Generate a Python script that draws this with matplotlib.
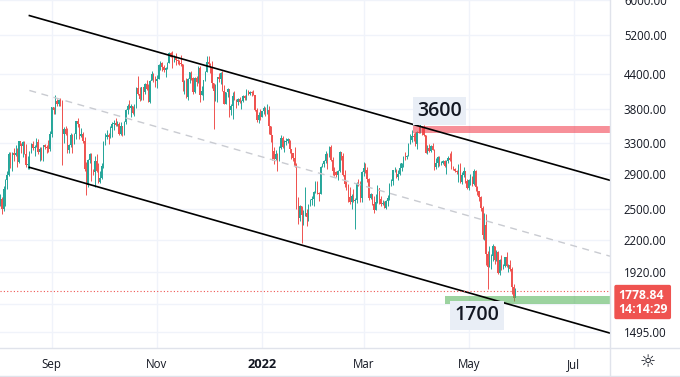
import matplotlib
matplotlib.use("Agg")
from matplotlib import pyplot as plt
import matplotlib.dates as mdates
from matplotlib.lines import Line2D
from matplotlib.patches import Rectangle
import numpy as np
import pandas as pd

plt.rcParams['font.family'] = ['Open Sans', 'DejaVu Sans']

# daily candles, first day 2021-08-02; open = previous close
first_day = '2021-08-02'
first_open = 2555
close = [
    # Aug
    2610, 2507, 2725, 2827, 2890, 3158, 3014, 3163, 3141, 3164, 3048, 3322, 3265, 3310, 3156,
    3014, 3020, 3183, 3286, 3226, 3242, 3320, 3172, 3224, 3101, 3270, 3244, 3227, 3224, 3433,
    # Sep
    3834, 3791, 3940, 3887, 3952, 3928, 3426, 3497, 3427, 3211, 3270, 3410, 3285, 3429, 3615,
    3571, 3399, 3432, 3329, 2958, 2764, 3077, 3155, 2932, 2926, 3062, 2934, 2807, 2853, 3001,
    # Oct
    3307, 3391, 3418, 3380, 3518, 3576, 3587, 3563, 3575, 3426, 3545, 3492, 3606, 3786, 3862,
    3830, 3847, 3748, 3877, 4155, 4055, 3972, 4169, 4088, 4218, 4131, 3924, 4288, 4415, 4325, 4288,
    # Nov
    4324, 4584, 4607, 4537, 4476, 4519, 4620, 4812, 4735, 4637, 4730, 4667, 4648, 4625, 4589,
    4260, 4287, 3995, 4311, 4437, 4326, 4085, 4338, 4270, 4525, 4041, 4096, 4293, 4445, 4632,
    # Dec
    4587, 4519, 4240, 4101, 4198, 4346, 4308, 4435, 4111, 3894, 4085, 4134, 3784, 3862, 4018,
    3960, 3922, 3962, 3927, 3941, 4022, 3982, 4109, 4048, 4093, 4067, 4037, 3796, 3629, 3713, 3683,
    # Jan
    3769, 3829, 3762, 3795, 3538, 3414, 3196, 3091, 3158, 3084, 3239, 3372, 3249, 3309, 3330,
    3350, 3213, 3164, 3097, 3001, 2568, 2413, 2540, 2442, 2460, 2464, 2425, 2548, 2598, 2606, 2688,
    # Feb
    2792, 2681, 2665, 2990, 3021, 3057, 3147, 3122, 3242, 3078, 2933, 2917, 2881, 2931,
    3180, 3129, 2886, 2785, 2765, 2627, 2574, 2640, 2592, 2600, 2786, 2781, 2622, 2922,
    # Mar
    2975, 2951, 2835, 2626, 2666, 2556, 2496, 2576, 2728, 2608, 2559, 2571, 2518, 2592, 2618,
    2773, 2814, 2944, 2949, 2860, 2898, 2971, 3032, 3109, 3108, 3129, 3290, 3336, 3403, 3386, 3282,
    # Apr
    3457, 3445, 3522, 3521, 3411, 3170, 3234, 3191, 3262, 3211, 2981, 3030, 3117, 3019, 3041,
    3061, 2995, 3057, 3104, 3077, 2987, 2964, 2935, 2922, 3009, 2808, 2888, 2936, 2815, 2730,
    # May
    2827, 2857, 2782, 2940, 2749, 2694, 2636, 2518, 2245, 2343, 2072, 1961, 2014, 2057,
    2145, 2023, 2090, 1914, 2019, 1957, 1975, 2043, 1972, 1978, 1945, 1803, 1725, 1778.84,
]
high = [
    2665, 2630, 2760, 2840, 2940, 3175, 3185, 3180, 3230, 3275, 3230, 3330, 3300, 3330, 3335,
    3290, 3120, 3190, 3300, 3330, 3270, 3370, 3360, 3250, 3250, 3280, 3290, 3280, 3340, 3470,
    3840, 3840, 4030, 3970, 3970, 3980, 3950, 3530, 3550, 3510, 3290, 3440, 3430, 3440, 3620,
    3670, 3580, 3510, 3450, 3380, 3050, 3090, 3170, 3160, 2960, 3120, 3150, 3040, 2940, 3040,
    3330, 3440, 3480, 3440, 3540, 3610, 3640, 3670, 3620, 3610, 3600, 3550, 3620, 3810, 3880,
    3950, 3880, 3860, 3890, 4170, 4370, 4170, 4170, 4170, 4240, 4290, 4230, 4300, 4460, 4420, 4370,
    4380, 4600, 4660, 4640, 4570, 4540, 4630, 4830, 4840, 4850, 4780, 4810, 4700, 4670, 4770,
    4590, 4300, 4340, 4340, 4450, 4460, 4360, 4360, 4370, 4550, 4550, 4200, 4300, 4460, 4760,
    4760, 4610, 4650, 4240, 4230, 4360, 4420, 4440, 4460, 4210, 4090, 4150, 4130, 3890, 4090,
    4100, 3970, 3990, 4010, 3950, 4040, 4040, 4140, 4120, 4110, 4100, 4130, 4040, 3820, 3760, 3800,
    3780, 3850, 3840, 3880, 3850, 3540, 3420, 3240, 3200, 3160, 3260, 3410, 3400, 3340, 3370,
    3370, 3340, 3220, 3170, 3250, 3040, 2630, 2550, 2540, 2490, 2740, 2500, 2560, 2610, 2640, 2700,
    2820, 2810, 2690, 3000, 3040, 3070, 3190, 3160, 3260, 3280, 3110, 2980, 2940, 2950,
    3190, 3180, 3160, 2950, 2810, 2780, 2750, 2660, 2720, 2620, 2800, 2840, 2820, 2940,
    3050, 3030, 2980, 2850, 2680, 2670, 2640, 2660, 2770, 2730, 2640, 2600, 2590, 2600, 2650,
    2790, 2840, 2950, 2990, 2960, 2950, 3040, 3040, 3120, 3180, 3140, 3300, 3430, 3480, 3440, 3450,
    3470, 3550, 3570, 3540, 3560, 3410, 3270, 3290, 3270, 3300, 3220, 3100, 3130, 3130, 3060,
    3080, 3080, 3070, 3130, 3170, 3190, 3000, 2970, 2950, 3020, 3040, 2920, 2980, 2940, 2840,
    2840, 2900, 2870, 2960, 2950, 2760, 2700, 2640, 2540, 2460, 2450, 2100, 2140, 2070,
    2160, 2140, 2110, 2100, 2030, 2060, 1990, 2050, 2090, 1990, 2020, 1960, 1830, 1800,
]
low = [
    2530, 2450, 2480, 2530, 2720, 2880, 2970, 2930, 3060, 3130, 2990, 3040, 3160, 3110, 3150,
    2990, 2960, 2960, 3160, 3200, 3130, 3240, 3150, 3060, 3070, 3060, 3220, 3160, 3180, 3190,
    3390, 3730, 3720, 3850, 3850, 3860, 3010, 3300, 3410, 3160, 3160, 3240, 3160, 3290, 3350,
    3530, 3360, 3380, 3300, 2940, 2650, 2740, 3040, 2810, 2890, 2750, 2920, 2790, 2790, 2840,
    2970, 3270, 3360, 3290, 3370, 3390, 3480, 3540, 3540, 3410, 3410, 3400, 3410, 3580, 3730,
    3810, 3680, 3720, 3700, 3830, 4040, 3940, 3960, 3950, 4060, 4120, 3920, 3910, 4290, 4270, 4170,
    4150, 4320, 4480, 4460, 4440, 4360, 4510, 4610, 4730, 4520, 4640, 4570, 4600, 4580, 4560,
    4110, 4060, 3980, 3960, 4250, 4300, 4060, 4070, 4200, 4240, 3920, 4040, 3960, 4280, 4440,
    4560, 4430, 4150, 3500, 3940, 3920, 4270, 4220, 4100, 3880, 3880, 4000, 3680, 3710, 3650,
    3950, 3820, 3870, 3900, 3800, 3920, 3960, 3950, 4040, 4030, 4020, 4030, 3770, 3610, 3590, 3630,
    3680, 3720, 3700, 3730, 3430, 3320, 3080, 3020, 3070, 2930, 3060, 3220, 3230, 3180, 3270,
    3300, 3170, 3090, 3060, 2980, 2500, 2350, 2380, 2170, 2340, 2430, 2330, 2380, 2530, 2550, 2530,
    2680, 2660, 2590, 2660, 2980, 2990, 3040, 2960, 3110, 3060, 2890, 2880, 2860, 2830,
    2920, 3080, 2870, 2740, 2710, 2580, 2560, 2500, 2580, 2300, 2570, 2760, 2580, 2580,
    2880, 2910, 2800, 2600, 2610, 2550, 2460, 2490, 2570, 2560, 2540, 2550, 2510, 2500, 2530,
    2600, 2760, 2770, 2920, 2850, 2830, 2890, 2930, 2990, 3080, 3090, 3120, 3290, 3320, 3330, 3260,
    3220, 3440, 3440, 3420, 3400, 3160, 3150, 3180, 3180, 3200, 2950, 2960, 2990, 3000, 3010,
    3020, 2990, 2900, 3030, 3060, 2960, 2950, 2920, 2900, 2800, 2790, 2780, 2860, 2790, 2720,
    2710, 2770, 2760, 2770, 2700, 2650, 2590, 2480, 2210, 2200, 1980, 1790, 1960, 1950,
    2010, 1990, 2010, 1910, 1900, 1940, 1950, 1960, 1960, 1920, 1930, 1750, 1700, 1740,
]

# drawn channel (date, price) end points
upper_line = [('2021-08-19', 5630), ('2022-07-22', 2823)]
lower_line = [('2021-08-19', 2981), ('2022-07-22', 1488)]
mid_line = [('2021-08-19', 4114), ('2022-07-22', 2054)]

# zones: start date, low price, high price
red_zone = ('2022-03-29 14:00', 3440, 3540)
green_zone = ('2022-04-17 10:00', 1680, 1737)
zone_labels = [('3600', '2022-04-14', 3776), ('1700', '2022-05-05 18:00', 1602)]

last_price = 1778.84
countdown = '14:14:29'

price_ticks = [1495, 1920, 2200, 2500, 2900, 3300, 3800, 4400, 5200, 6000]
extra_grid = [1680]
month_ticks = ['2021-09-01', '2021-11-01', '2022-01-01', '2022-03-01', '2022-05-01', '2022-07-01']
month_labels = ['Sep', 'Nov', '2022', 'Mar', 'May', 'Jul']
x_range = ('2021-08-01 22:30', '2022-07-22')
y_range = (1398, 6010)

UP, DOWN = '#26a69a', '#ef5350'
GRID = '#f0f3fa'
SEP = '#e0e3eb'
TXT = '#131722'

d = lambda s: mdates.date2num(pd.Timestamp(s))

fig = plt.figure(figsize=(6.8, 3.77), dpi=100)
ax = fig.add_axes([0, 29 / 377, 610 / 680, 348 / 377])
ax.set_yscale('log')
ax.set_xlim(d(x_range[0]), d(x_range[1]))
ax.set_ylim(*y_range)

# grid
for p in price_ticks + extra_grid:
    ax.axhline(p, color=GRID, lw=1, zorder=0)
for m in month_ticks:
    ax.axvline(d(m), color=GRID, lw=1, zorder=0)

# candles
dates = mdates.date2num(pd.date_range(first_day, periods=len(close)))
c = np.array(close, dtype=float)
o = np.r_[first_open, c[:-1]]
colors = np.where(c >= o, UP, DOWN)
ax.vlines(dates, low, high, colors=colors, lw=0.7, zorder=2)
ax.bar(dates, np.abs(c - o), bottom=np.minimum(o, c), width=0.7, color=colors, lw=0, zorder=2)

# zones
for (start, lo, hi), col in [(red_zone, '#f23645'), (green_zone, '#4caf50')]:
    ax.add_patch(Rectangle((d(start), lo), d(x_range[1]) - d(start), hi - lo,
                           facecolor=col, alpha=0.55, lw=0, zorder=3))

# channel
for line, style in [(upper_line, dict(color='black', lw=1.2)),
                    (lower_line, dict(color='black', lw=1.2)),
                    (mid_line, dict(color='#c9cbd1', lw=1, ls=(0, (5, 4))))]:
    ax.plot([d(p[0]) for p in line], [p[1] for p in line], zorder=4, **style)

for txt, day, price in zone_labels:
    ax.text(d(day), price, txt, ha='center', va='center', fontsize=14, fontweight='semibold',
            color=TXT, zorder=6,
            bbox=dict(boxstyle='square,pad=0.22', fc='#e9eef6', ec='none'))

# last price
ax.axhline(last_price, color=DOWN, lw=0.8, ls=(0, (1, 2)), zorder=5)
ax.annotate(f'{last_price:.2f}\n{countdown}', xy=(1, last_price), xycoords=ax.get_yaxis_transform(),
            xytext=(8, 2), textcoords='offset pixels', ha='left', va='top', color='white',
            fontsize=8.8, fontweight='bold', linespacing=1.1, annotation_clip=False, zorder=10,
            bbox=dict(boxstyle='round,pad=0.3,rounding_size=0.15', fc=DOWN, ec='none'))

# axes
ax.yaxis.tick_right()
ax.yaxis.set_major_locator(matplotlib.ticker.FixedLocator(price_ticks))
ax.yaxis.set_major_formatter(matplotlib.ticker.FixedFormatter([f'{p:.2f}' for p in price_ticks]))
ax.yaxis.set_minor_locator(matplotlib.ticker.NullLocator())
ax.set_xticks([d(m) for m in month_ticks])
ax.set_xticklabels(month_labels)
ax.tick_params(axis='y', length=0, pad=10, labelsize=8.3, labelcolor=TXT)
ax.tick_params(axis='x', length=0, pad=7, labelsize=8.3, labelcolor=TXT)
for lbl in ax.get_xticklabels():
    if lbl.get_text().isdigit():
        lbl.set_fontweight('bold')
        lbl.set_fontsize(9.3)
for s in ax.spines.values():
    s.set_visible(False)

fig.add_artist(Line2D([610 / 680] * 2, [0, 1], transform=fig.transFigure, color=SEP, lw=1))
fig.add_artist(Line2D([0, 1], [29 / 377] * 2, transform=fig.transFigure, color=SEP, lw=1))
fig.add_artist(Line2D([0, 1], [1 / 377] * 2, transform=fig.transFigure, color=SEP, lw=1))
fig.text(648 / 680, 1 - 362 / 377, '\u263c', ha='center', va='center', fontsize=13, color=TXT)

fig.savefig('out.png', dpi=100)
